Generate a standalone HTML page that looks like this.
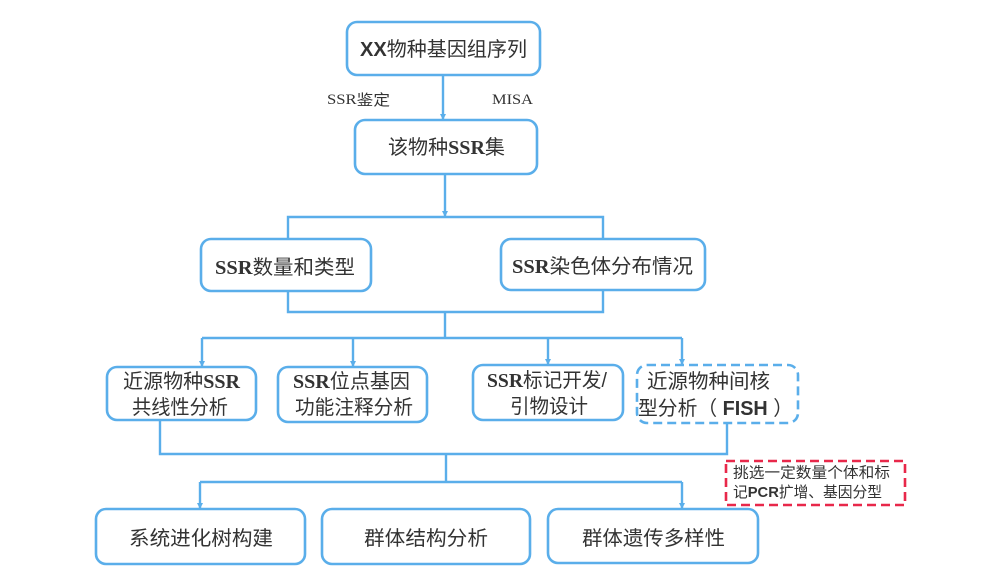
<!DOCTYPE html>
<html><head><meta charset="utf-8">
<style>
html,body{margin:0;padding:0;background:#fff;}
svg{display:block;}
text{fill:#333;}
.c{font-family:"Liberation Serif","Noto Sans CJK SC",serif;}
.s{font-family:"Liberation Sans","Noto Sans CJK SC",sans-serif;}
</style></head>
<body>
<svg width="1000" height="585" viewBox="0 0 1000 585" xmlns="http://www.w3.org/2000/svg">
<defs>
<marker id="a" markerWidth="6" markerHeight="6" refX="5" refY="3" orient="auto" markerUnits="userSpaceOnUse">
<path d="M0,0 L6,3 L0,6 z" fill="#5aaeea"/>
</marker>
</defs>
<g fill="none" stroke="#5aaeea" stroke-width="2.6">
<!-- boxes -->
<rect x="347" y="22" width="193" height="53" rx="10"/>
<rect x="355" y="120" width="182" height="54" rx="10"/>
<rect x="201" y="239" width="170" height="52" rx="10"/>
<rect x="501" y="239" width="204" height="51" rx="10"/>
<rect x="107" y="367" width="149" height="53" rx="10"/>
<rect x="278" y="367" width="149" height="55" rx="10"/>
<rect x="473" y="365" width="150" height="55" rx="10"/>
<rect x="637" y="365" width="161" height="58" rx="10" stroke-dasharray="9,5"/>
<rect x="96" y="509" width="209" height="55" rx="10"/>
<rect x="322" y="509" width="208" height="55" rx="10"/>
<rect x="548" y="509" width="210" height="54" rx="10"/>
</g>
<rect x="726" y="461" width="179" height="44" fill="none" stroke="#e8284a" stroke-width="2.6" stroke-dasharray="9,5"/>
<g fill="none" stroke="#5aaeea" stroke-width="2.4">
<line x1="443" y1="75" x2="443" y2="119" marker-end="url(#a)"/>
<line x1="445" y1="174" x2="445" y2="216" marker-end="url(#a)"/>
<polyline points="288,239 288,217 603,217 603,239"/>
<polyline points="288,291 288,312 603,312 603,290"/>
<line x1="445" y1="312" x2="445" y2="338"/>
<line x1="202" y1="338" x2="682" y2="338"/>
<line x1="202" y1="338" x2="202" y2="366" marker-end="url(#a)"/>
<line x1="353" y1="338" x2="353" y2="366" marker-end="url(#a)"/>
<line x1="548" y1="338" x2="548" y2="364" marker-end="url(#a)"/>
<line x1="682" y1="338" x2="682" y2="364" marker-end="url(#a)"/>
<polyline points="160,420 160,454 727,454 727,423"/>
<line x1="446" y1="454" x2="446" y2="482"/>
<line x1="200" y1="482" x2="682" y2="482"/>
<line x1="200" y1="482" x2="200" y2="508" marker-end="url(#a)"/>
<line x1="682" y1="482" x2="682" y2="508" marker-end="url(#a)"/>
</g>
<g font-size="20" dominant-baseline="central">
<text x="360" y="50" textLength="167" lengthAdjust="spacingAndGlyphs"><tspan class="s" font-weight="bold">XX</tspan><tspan class="s">物种基因组序列</tspan></text>
<text x="388" y="148" textLength="117" lengthAdjust="spacingAndGlyphs"><tspan class="s">该物种</tspan><tspan class="c" font-weight="bold">SSR</tspan><tspan class="s">集</tspan></text>
<text x="215" y="268" textLength="140" lengthAdjust="spacingAndGlyphs"><tspan class="c" font-weight="bold">SSR</tspan><tspan class="s">数量和类型</tspan></text>
<text x="512" y="267" textLength="181" lengthAdjust="spacingAndGlyphs"><tspan class="c" font-weight="bold">SSR</tspan><tspan class="s">染色体分布情况</tspan></text>
<text x="123" y="382" textLength="117" lengthAdjust="spacingAndGlyphs"><tspan class="s">近源物种</tspan><tspan class="c" font-weight="bold">SSR</tspan></text>
<text x="132" y="408" textLength="96" lengthAdjust="spacingAndGlyphs" class="s">共线性分析</text>
<text x="293" y="382" textLength="117" lengthAdjust="spacingAndGlyphs"><tspan class="c" font-weight="bold">SSR</tspan><tspan class="s">位点基因</tspan></text>
<text x="295" y="408" textLength="118" lengthAdjust="spacingAndGlyphs" class="s">功能注释分析</text>
<text x="487" y="381" textLength="120" lengthAdjust="spacingAndGlyphs"><tspan class="c" font-weight="bold">SSR</tspan><tspan class="s">标记开发/</tspan></text>
<text x="510" y="407" textLength="78" lengthAdjust="spacingAndGlyphs" class="s">引物设计</text>
<text x="647" y="382" textLength="123" lengthAdjust="spacingAndGlyphs" class="s">近源物种间核</text>
<text x="638" y="409" textLength="155" lengthAdjust="spacingAndGlyphs"><tspan class="s">型分析（ </tspan><tspan class="s" font-weight="bold">FISH</tspan><tspan class="s"> ）</tspan></text>
<text x="129" y="539" textLength="144" lengthAdjust="spacingAndGlyphs" class="s">系统进化树构建</text>
<text x="364" y="539" textLength="124" lengthAdjust="spacingAndGlyphs" class="s">群体结构分析</text>
<text x="582" y="539" textLength="143" lengthAdjust="spacingAndGlyphs" class="s">群体遗传多样性</text>
</g>
<g font-size="15" dominant-baseline="central">
<text x="327" y="100" textLength="63" lengthAdjust="spacingAndGlyphs"><tspan class="c">SSR</tspan><tspan class="s">鉴定</tspan></text>
<text x="492" y="100" textLength="41" lengthAdjust="spacingAndGlyphs" class="c">MISA</text>
<text x="733" y="473" textLength="157" lengthAdjust="spacingAndGlyphs" class="s">挑选一定数量个体和标</text>
<text x="733" y="492" textLength="149" lengthAdjust="spacingAndGlyphs"><tspan class="s">记</tspan><tspan class="s" font-weight="bold">PCR</tspan><tspan class="s">扩增、基因分型</tspan></text>
</g>
</svg>
</body></html>
